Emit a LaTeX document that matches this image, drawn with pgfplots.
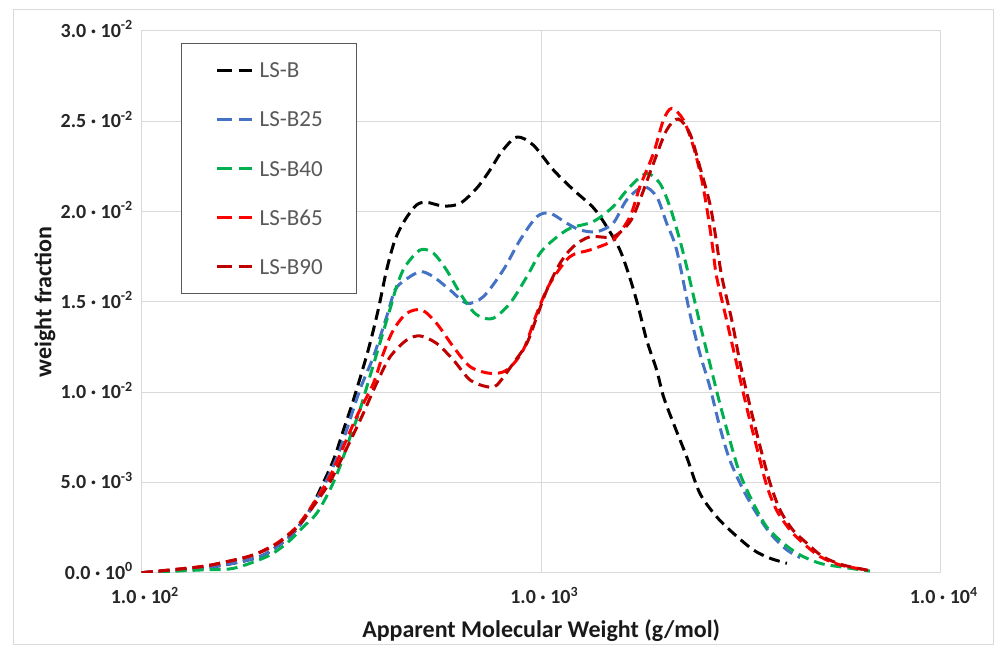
\documentclass[border=0pt]{standalone}
\usepackage{fontspec}
\setmainfont{Carlito}
\usepackage{pgfplots}
\pgfplotsset{compat=1.18}
\usepackage{pgfplotstable}
\definecolor{cBlue}{HTML}{4472C4}
\definecolor{cGreen}{HTML}{00B050}
\definecolor{cRed}{HTML}{FF0000}
\definecolor{cDark}{HTML}{C00000}
\definecolor{gridc}{HTML}{D9D9D9}
\definecolor{legtext}{HTML}{595959}

\pgfplotstableread{
x y
100 0
140.0 0.00024
169.4 0.00052
197.7 0.00089
217.8 0.00144
239.3 0.00218
263.6 0.00347
279.3 0.00458
302.0 0.00624
319.9 0.00790
338.8 0.00956
369.0 0.01233
390.8 0.01455
410.2 0.01676
430.5 0.01842
456.0 0.01953
487.5 0.02036
516.4 0.02051
568.9 0.02030
626.6 0.02045
690.2 0.02130
744.7 0.02230
796.2 0.02331
868.9 0.02412
955.0 0.02368
1071.5 0.02231
1202.3 0.02121
1349.0 0.02022
1458.8 0.01916
1574.0 0.01787
1667.2 0.01632
1749.8 0.01473
1836.5 0.01288
1945.3 0.01122
2023.0 0.00975
2142.9 0.00827
2312.1 0.00642
2494.6 0.00440
2748.0 0.00310
3027.0 0.00218
3396.4 0.00126
3741.5 0.00080
4120.9 0.00052
}\lsb

\pgfplotstableread{
x y
100 0
140.0 0.00024
169.4 0.00052
197.7 0.00089
217.8 0.00144
239.3 0.00218
263.6 0.00342
290.4 0.00513
313.3 0.00679
351.6 0.01012
380.2 0.01196
410.2 0.01417
430.5 0.01565
456.0 0.01620
497.7 0.01667
537.0 0.01639
591.6 0.01565
651.6 0.01492
716.1 0.01528
803.5 0.01676
885.1 0.01842
975.0 0.01971
1051.9 0.01990
1158.8 0.01935
1250.3 0.01898
1377.2 0.01888
1513.6 0.01935
1636.8 0.02064
1803.0 0.02137
1945.3 0.02082
2060.7 0.01935
2182.7 0.01787
2355.0 0.01436
2494.6 0.01215
2642.4 0.01030
2799.0 0.00808
2964.9 0.00624
3206.3 0.00458
3459.4 0.00329
3741.5 0.00218
4120.9 0.00126
4446.3 0.00084
}\lsbtf

\pgfplotstableread{
x y
100 0
140.0 0.00015
169.4 0.00024
205.6 0.00089
230.7 0.00163
254.1 0.00255
274.2 0.00329
295.8 0.00458
313.3 0.00587
332.7 0.00753
351.6 0.00901
372.4 0.01085
394.5 0.01270
417.8 0.01455
434.5 0.01584
456.0 0.01694
497.7 0.01787
537.0 0.01769
579.4 0.01676
626.6 0.01547
669.9 0.01455
703.1 0.01417
758.6 0.01409
835.6 0.01492
920.4 0.01639
993.1 0.01769
1071.5 0.01842
1180.3 0.01907
1349.0 0.01944
1513.6 0.02027
1667.2 0.02137
1836.5 0.02211
1981.5 0.02156
2098.9 0.02027
2223.3 0.01842
2333.5 0.01658
2494.6 0.01381
2642.4 0.01159
2799.0 0.00938
2964.9 0.00735
3140.5 0.00550
3396.4 0.00384
3664.4 0.00255
4036.4 0.00163
4446.3 0.00098
4988.8 0.00052
5701.5 0.00030
6652.7 0.00009
}\lsbf

\pgfplotstableread{
x y
100 0
140.0 0.00033
163.3 0.00061
190.1 0.00098
217.8 0.00163
244.3 0.00255
269.2 0.00384
295.8 0.00532
319.9 0.00698
345.1 0.00864
380.2 0.01049
402.7 0.01215
426.6 0.01344
460.3 0.01436
502.3 0.01455
547.0 0.01381
602.6 0.01251
663.7 0.01141
744.7 0.01104
820.4 0.01122
901.6 0.01233
975.0 0.01436
1051.9 0.01602
1180.3 0.01750
1324.3 0.01787
1513.6 0.01842
1667.2 0.01971
1766.0 0.02137
1909.9 0.02322
2023.0 0.02507
2123.3 0.02571
2269.9 0.02507
2404.4 0.02359
2523.5 0.02174
2618.2 0.01971
2691.5 0.01787
2748.0 0.01639
2910.7 0.01399
3083.2 0.01159
3265.9 0.00919
3459.4 0.00698
3664.4 0.00486
3881.5 0.00347
4197.5 0.00236
4528.9 0.00163
4988.8 0.00089
5597.6 0.00043
6531.3 0.00015
}\lsbsf

\pgfplotstableread{
x y
100 0
140.0 0.00033
163.3 0.00061
190.1 0.00098
217.8 0.00159
244.3 0.00248
269.2 0.00369
295.8 0.00502
319.9 0.00652
355.6 0.00864
387.3 0.01049
418.8 0.01196
460.3 0.01288
497.7 0.01311
547.0 0.01270
602.6 0.01178
663.7 0.01067
731.1 0.01030
774.5 0.01039
851.1 0.01159
920.4 0.01270
975.0 0.01417
1032.8 0.01565
1114.3 0.01713
1202.3 0.01805
1324.3 0.01860
1513.6 0.01860
1667.2 0.01942
1766.0 0.02064
1909.9 0.02267
2060.7 0.02451
2202.8 0.02512
2355.0 0.02433
2494.6 0.02248
2642.4 0.02045
2741.6 0.01842
2831.4 0.01639
2999.2 0.01399
3147.8 0.01159
3334.3 0.00919
3531.8 0.00698
3741.5 0.00495
3962.8 0.00347
4265.8 0.00236
4623.8 0.00163
5069.9 0.00089
5688.5 0.00043
6637.4 0.00012
}\lsbn

\begin{document}
\begin{tikzpicture}
\useasboundingbox (0,0) rectangle (995pt,646pt);
\draw[gridc, line width=1pt] (13pt,2pt) rectangle (993pt,636pt);
\begin{axis}[
  at={(141.7pt,73.3pt)}, anchor=south west,
  scale only axis, width=799pt, height=541.8pt,
  xmode=log, xmin=100, xmax=10000, ymin=0, ymax=0.03,
  xtick={100,1000,10000},
  xticklabels={{1.0 · 10\textsuperscript{2}},{1.0 · 10\textsuperscript{3}},{1.0 · 10\textsuperscript{4}}},
  ytick={0,0.005,0.01,0.015,0.02,0.025,0.03},
  yticklabels={{0.0 · 10\textsuperscript{0}},{5.0 · 10\textsuperscript{-3}},{1.0 · 10\textsuperscript{-2}},{1.5 · 10\textsuperscript{-2}},{2.0 · 10\textsuperscript{-2}},{2.5 · 10\textsuperscript{-2}},{3.0 · 10\textsuperscript{-2}}},
  scaled y ticks=false,
  minor xtick={}, minor ytick={},
  grid=major, major grid style={gridc, line width=1.2pt},
  axis line style={gridc, line width=1.2pt},
  major tick length=0pt, minor tick length=0pt,
  tick label style={font=\fontsize{20}{24}\selectfont\bfseries, text=black!85},
  xticklabel style={anchor=base, inner sep=0pt, yshift=-31pt, xshift=3pt},
  yticklabel style={anchor=base east, inner sep=0pt, xshift=-8.7pt, yshift=-6.5pt},
  xlabel={Apparent Molecular Weight (g/mol)},
  ylabel={weight fraction},
  label style={font=\fontsize{24}{28}\selectfont\bfseries, text=black!90},
  xlabel style={at={(axis description cs:0.5,-0.106)}, anchor=center},
  ylabel style={at={(axis description cs:-0.121,0.5)}, anchor=center},
  every axis plot/.append style={line width=3pt, dash pattern=on 11pt off 6pt, smooth},
  legend image code/.code={\draw[#1, dash pattern=on 15pt off 7pt] (0pt,0pt) -- (35pt,0pt);},
  legend cell align=left,
  legend style={at={(axis description cs:0.0492,0.9777)}, anchor=north west,
    draw=black!65, line width=1.3pt, fill=white,
    inner xsep=34pt, inner ysep=19pt, row sep=34.2pt, column sep=6pt,
    font=\fontsize{23}{27}\selectfont, text=legtext,
    nodes={inner sep=0pt, text height=15pt, text depth=0pt}},
]
\addplot[black] table[x=x,y=y] {\lsb};
\addlegendentry{LS-B}
\addplot[cBlue] table[x=x,y=y] {\lsbtf};
\addlegendentry{LS-B25}
\addplot[cGreen] table[x=x,y=y] {\lsbf};
\addlegendentry{LS-B40}
\addplot[cRed] table[x=x,y=y] {\lsbsf};
\addlegendentry{LS-B65}
\addplot[cDark] table[x=x,y=y] {\lsbn};
\addlegendentry{LS-B90}
\end{axis}
\end{tikzpicture}
\end{document}
